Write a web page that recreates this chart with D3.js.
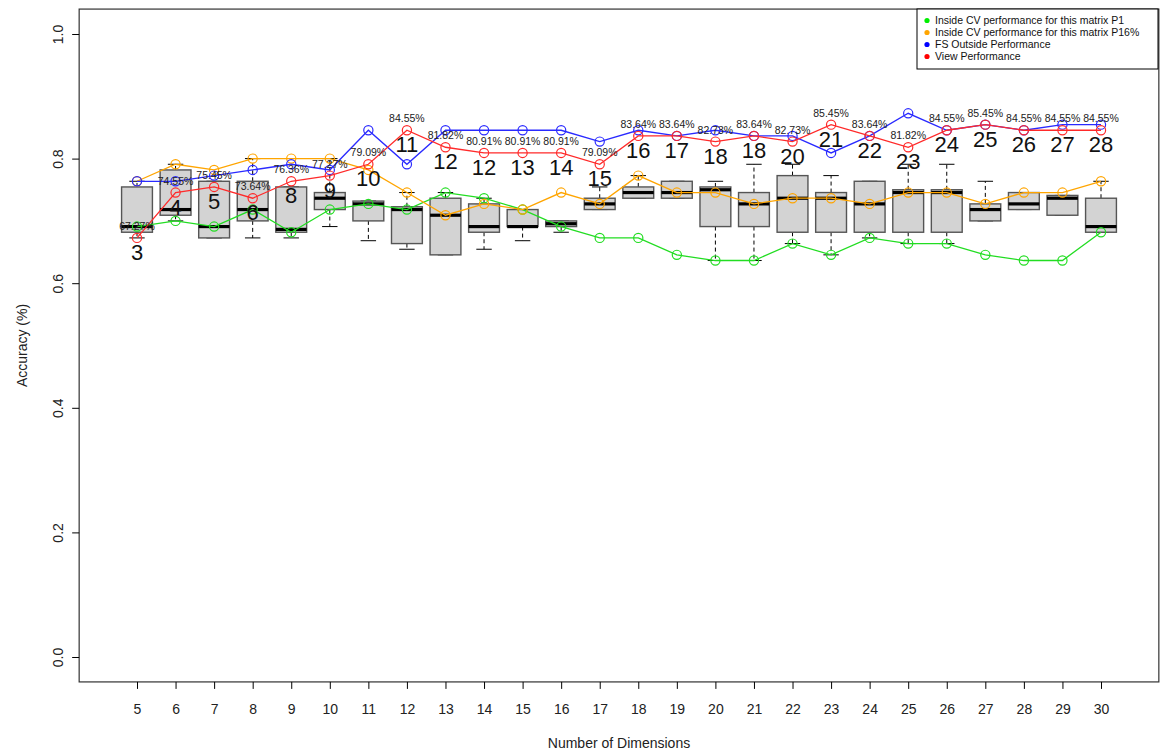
<!DOCTYPE html>
<html><head><meta charset="utf-8">
<script src="https://cdn.jsdelivr.net/npm/d3@7"></script>
<style>
body{margin:0;background:#fff}
svg{display:block}
text{font-family:Arial,"Liberation Sans",Helvetica,sans-serif}
</style>
</head><body>
<svg id="chart" width="1161" height="753"></svg>
<script>
// ---- data ----
const dims = [5,6,7,8,9,10,11,12,13,14,15,16,17,18,19,20,21,22,23,24,25,26,27,28,29,30];

// box statistics per dimension
const boxLowWhisker  = [0.6727,0.7000,0.6727,0.6727,0.6727,0.6909,0.6682,0.6545,0.6455,0.6545,0.6682,0.6818,0.7182,0.7364,0.7364,0.6364,0.6364,0.6636,0.6455,0.6727,0.6636,0.6636,0.7000,0.7182,0.7091,0.6818];
const boxQ1          = [0.6818,0.7091,0.6727,0.7000,0.6818,0.7182,0.7000,0.6636,0.6455,0.6818,0.6909,0.6909,0.7182,0.7364,0.7364,0.6909,0.6909,0.6818,0.6818,0.6818,0.6818,0.6818,0.7000,0.7182,0.7091,0.6818];
const boxMedian      = [0.6909,0.7182,0.6909,0.7182,0.6864,0.7364,0.7273,0.7182,0.7091,0.6909,0.6909,0.6955,0.7273,0.7455,0.7455,0.7500,0.7273,0.7364,0.7364,0.7273,0.7455,0.7455,0.7182,0.7273,0.7364,0.6909];
const boxQ3          = [0.7545,0.7818,0.7636,0.7636,0.7545,0.7455,0.7318,0.7227,0.7364,0.7273,0.7182,0.7000,0.7364,0.7545,0.7636,0.7545,0.7455,0.7727,0.7455,0.7636,0.7500,0.7500,0.7273,0.7455,0.7409,0.7364];
const boxHighWhisker = [0.7636,0.7909,0.7636,0.8000,0.7545,0.8000,0.7318,0.7455,0.7455,0.7364,0.7182,0.7000,0.7545,0.7727,0.7636,0.7636,0.7909,0.7909,0.7727,0.7636,0.7909,0.7909,0.7636,0.7455,0.7409,0.7636];

// line series
const insideP1   = [0.6909,0.7000,0.6909,0.7182,0.6818,0.7182,0.7273,0.7182,0.7455,0.7364,0.7182,0.6909,0.6727,0.6727,0.6455,0.6364,0.6364,0.6636,0.6455,0.6727,0.6636,0.6636,0.6455,0.6364,0.6364,0.6818];
const insideP16  = [0.7636,0.7909,0.7818,0.8000,0.8000,0.8000,0.7818,0.7455,0.7091,0.7273,0.7182,0.7455,0.7273,0.7727,0.7455,0.7455,0.7273,0.7364,0.7364,0.7273,0.7455,0.7455,0.7273,0.7455,0.7455,0.7636];
const fsOutside  = [0.7636,0.7636,0.7727,0.7818,0.7909,0.7818,0.8455,0.7909,0.8455,0.8455,0.8455,0.8455,0.8273,0.8455,0.8364,0.8455,0.8364,0.8364,0.8091,0.8364,0.8727,0.8455,0.8545,0.8455,0.8545,0.8545];
const viewPerf   = [0.6727,0.7455,0.7545,0.7364,0.7636,0.7727,0.7909,0.8455,0.8182,0.8091,0.8091,0.8091,0.7909,0.8364,0.8364,0.8273,0.8364,0.8273,0.8545,0.8364,0.8182,0.8455,0.8545,0.8455,0.8455,0.8455];
const featureCounts = [3,4,5,6,8,9,10,11,12,12,13,14,15,16,17,18,18,20,21,22,23,24,25,26,27,28];

const yTicks = [0.0,0.2,0.4,0.6,0.8,1.0];
const legendLabels = ["Inside CV performance for this matrix P1","Inside CV performance for this matrix P16%","FS Outside Performance","View Performance"];
const seriesColors = ["#22dd22","#ffa500","#2a2aff","#ff2a2a"];
const legendColors = ["#00ee00","#ffa500","#0000ff","#ff0000"];

// ---- drawing ----
const svg = d3.select("#chart");
const x = d3.scaleLinear().domain([5,30]).range([137,1101]);
const y = d3.scaleLinear().domain([0,1]).range([657,34]);
const pLeft = x(3.5), pRight = x(31.5), pTop = y(1.04), pBottom = y(-0.04);

svg.append("rect").attr("width",1161).attr("height",753).attr("fill","#fff");

// boxes
const boxes = dims.map((d,i)=>({d, lw:boxLowWhisker[i], q1:boxQ1[i], md:boxMedian[i], q3:boxQ3[i], uw:boxHighWhisker[i]}));
const bg = svg.append("g");
boxes.forEach(b=>{
  const g = bg.append("g");
  const cx = x(b.d), hw = x(b.d+0.4)-x(b.d), cw = x(b.d+0.2)-x(b.d);
  g.append("line").attr("x1",cx).attr("x2",cx).attr("y1",y(b.q3)).attr("y2",y(b.uw))
    .attr("stroke","#000").attr("stroke-width",1).attr("stroke-dasharray","4,3");
  g.append("line").attr("x1",cx).attr("x2",cx).attr("y1",y(b.q1)).attr("y2",y(b.lw))
    .attr("stroke","#000").attr("stroke-width",1).attr("stroke-dasharray","4,3");
  g.append("line").attr("x1",cx-cw).attr("x2",cx+cw).attr("y1",y(b.uw)).attr("y2",y(b.uw)).attr("stroke","#000");
  g.append("line").attr("x1",cx-cw).attr("x2",cx+cw).attr("y1",y(b.lw)).attr("y2",y(b.lw)).attr("stroke","#000");
  g.append("rect").attr("x",cx-hw).attr("width",2*hw).attr("y",y(b.q3)).attr("height",Math.max(0.5,y(b.q1)-y(b.q3)))
    .attr("fill","#d3d3d3").attr("stroke","#555").attr("stroke-width",1.4);
  g.append("line").attr("x1",cx-hw).attr("x2",cx+hw).attr("y1",y(b.md)).attr("y2",y(b.md))
    .attr("stroke","#000").attr("stroke-width",3.2);
});

// lines
const series = [insideP1, insideP16, fsOutside, viewPerf];
const line = d3.line().x(d=>x(d[0])).y(d=>y(d[1]));
series.forEach((vals,si)=>{
  const pts = dims.map((d,i)=>[d,vals[i]]);
  const g = svg.append("g");
  g.append("path").attr("d",line(pts)).attr("fill","none").attr("stroke",seriesColors[si]).attr("stroke-width",1.3);
  g.selectAll("circle").data(pts).join("circle")
    .attr("cx",d=>x(d[0])).attr("cy",d=>y(d[1])).attr("r",4.6)
    .attr("fill","none").attr("stroke",seriesColors[si]).attr("stroke-width",1.2);
});

// labels
const lg = svg.append("g");
dims.forEach((d,i)=>{
  lg.append("text").attr("x",x(d)).attr("y",y(viewPerf[i])-8).attr("text-anchor","middle")
    .attr("font-size","10.5px").attr("fill","#222").text((viewPerf[i]*100).toFixed(2)+"%");
  lg.append("text").attr("x",x(d)).attr("y",y(viewPerf[i])+22).attr("text-anchor","middle")
    .attr("font-size","22px").attr("fill","#111").text(featureCounts[i]);
});

// frame
svg.append("rect").attr("x",pLeft).attr("y",pTop).attr("width",pRight-pLeft).attr("height",pBottom-pTop)
  .attr("fill","none").attr("stroke","#333").attr("stroke-width",1.2);

// axes
const ya = svg.append("g").attr("transform",`translate(${pLeft},0)`)
  .call(d3.axisLeft(y).tickValues(yTicks).tickFormat(d3.format(".1f")).tickSize(7).tickSizeOuter(0));
ya.select(".domain").remove();
ya.selectAll(".tick line").attr("stroke","#000");
ya.selectAll(".tick text").attr("transform","rotate(-90)").attr("x",0).attr("y",-16).attr("dy",0)
  .attr("text-anchor","middle").attr("font-size","14px").attr("fill","#222").attr("font-family",null);

const xa = svg.append("g").attr("transform",`translate(0,${pBottom})`)
  .call(d3.axisBottom(x).tickValues(dims).tickFormat(d3.format("d")).tickSize(7).tickPadding(15));
xa.select(".domain").remove();
xa.selectAll(".tick line").attr("stroke","#000");
xa.selectAll(".tick text").attr("font-size","14px").attr("fill","#222").attr("font-family",null);

svg.append("text").attr("x",(pLeft+pRight)/2).attr("y",748).attr("text-anchor","middle")
  .attr("font-size","14px").attr("fill","#222").text("Number of Dimensions");
svg.append("text").attr("transform",`translate(27,${(pTop+pBottom)/2}) rotate(-90)`).attr("text-anchor","middle")
  .attr("font-size","14px").attr("fill","#222").text("Accuracy (%)");

// legend
const leg = svg.append("g");
leg.append("rect").attr("x",917).attr("y",9).attr("width",241).attr("height",60)
  .attr("fill","#fff").attr("stroke","#000").attr("stroke-width",1);
legendLabels.forEach((t,i)=>{
  const ly = 20.5 + i*12;
  leg.append("circle").attr("cx",927).attr("cy",ly).attr("r",2.6).attr("fill",legendColors[i]);
  leg.append("text").attr("x",935).attr("y",ly+3.7).attr("font-size","10.5px").attr("fill","#111").text(t);
});
</script>
</body></html>
